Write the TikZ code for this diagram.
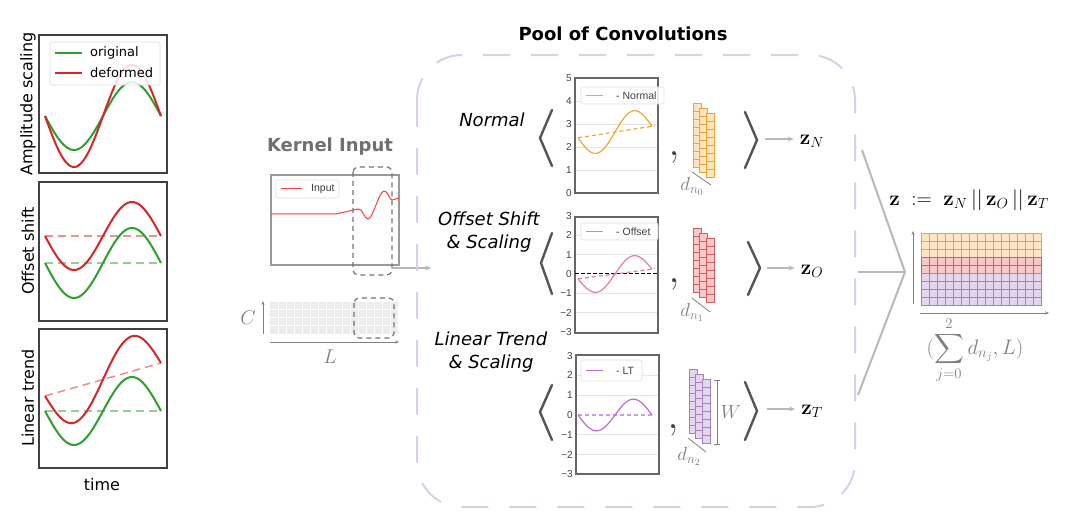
\documentclass[tikz,border=0pt]{standalone}
\usepackage{fix-cm}
\usepackage[no-math]{fontspec}
\usepackage{amsmath}
\setmainfont{DejaVu Sans}
\newfontfamily\arialfont{Liberation Sans}
\usetikzlibrary{arrows.meta}
\definecolor{tabgreen}{RGB}{44,160,44}
\definecolor{tabred}{RGB}{214,39,40}
\definecolor{frame}{RGB}{64,64,64}
\definecolor{kgray}{RGB}{112,112,112}
\definecolor{poolc}{RGB}{220,206,232}
\definecolor{orangeN}{RGB}{245,165,50}
\definecolor{pinkO}{RGB}{232,125,160}
\definecolor{violetT}{RGB}{195,105,215}
\definecolor{kred}{RGB}{250,60,60}
\definecolor{yelfill}{RGB}{253,228,196}
\definecolor{yeldraw}{RGB}{232,170,40}
\definecolor{redfill}{RGB}{248,200,200}
\definecolor{reddraw}{RGB}{208,96,96}
\definecolor{purfill}{RGB}{228,214,236}
\definecolor{purdraw}{RGB}{165,130,190}
\definecolor{brk}{RGB}{85,85,85}
\definecolor{conn}{RGB}{185,185,185}
\begin{document}
\begin{tikzpicture}[x=1pt,y=-1pt,
  panel/.style={draw=frame,line width=1.2pt},
  orig/.style={tabgreen,line width=2pt},
  deform/.style={tabred,line width=2pt},
  trend/.style={line width=1.6pt,dash pattern=on 8pt off 5pt,opacity=0.5},
  plotframe/.style={draw=frame!80,line width=1.2pt},
  gridline/.style={gray!20,line width=0.6pt},
  tick/.style={anchor=east,inner sep=1pt,text=frame,font=\arialfont\fontsize{10}{10}\selectfont},
  legbox/.style={draw=gray!25,fill=white,fill opacity=0.85,rounded corners=2pt,line width=0.6pt},
  legtext/.style={anchor=west,inner sep=0pt,text=frame,font=\arialfont\fontsize{10.5}{12}\selectfont},
  rowlabel/.style={align=center,font=\fontsize{18}{23}\selectfont\itshape},
  bracket/.style={draw=brk,line width=2.4pt,line cap=round,line join=miter},
  arr/.style={draw=conn,line width=1.2pt,-{Stealth[length=6pt,width=5pt]}},
  axis/.style={draw=gray,line width=0.8pt,-{Stealth[length=4pt,width=3pt]}},
  window/.style={draw=gray!90!black,line width=1.2pt,dash pattern=on 5pt off 4pt,rounded corners=5pt},
  zlabel/.style={inner sep=2pt,font=\fontsize{21}{25}\selectfont},
  dimlabel/.style={text=gray,font=\fontsize{19}{22}\selectfont},
  cellN/.style={draw=yeldraw,fill=yelfill,line width=0.8pt},
  cellO/.style={draw=reddraw,fill=redfill,line width=0.8pt},
  cellT/.style={draw=purdraw,fill=purfill,line width=0.8pt},
  conv/.style={draw=conn,line width=2pt},
  comma/.style={anchor=base,text=frame,inner sep=0pt,font=\fontsize{40}{40}\selectfont}
]
\useasboundingbox (0,0) rectangle (1080,529);

% deformation examples
\draw[panel] (39,35) rectangle (167,173);
\draw[panel] (39,182) rectangle (167,321);
\draw[panel] (39,329) rectangle (167,468);
\node[rotate=90,font=\fontsize{16}{19}\selectfont] (ampl) at (28,104) {Amplitude scaling};
\node[rotate=90,font=\fontsize{16}{19}\selectfont] (offs) at (28,251) {Offset shift};
\node[rotate=90,font=\fontsize{16}{19}\selectfont] (lint) at (28,398) {Linear trend};
\node[font=\fontsize{16}{19}\selectfont] (time) at (102,485) {time};

\draw[orig] plot[domain=0:360,samples=72] ({45+\x/360*116},{116+34*sin(\x)});
\draw[deform] plot[domain=0:360,samples=72] ({45+\x/360*116},{116+51*sin(\x)});
\draw[legbox] (50,42) rectangle (160,85);
\draw[orig] (55,53) -- (82,53);
\draw[deform] (55,73) -- (82,73);
\node[anchor=west,inner sep=0pt,font=\fontsize{13}{15}\selectfont] (lorig) at (90,53) {original};
\node[anchor=west,inner sep=0pt,font=\fontsize{13}{15}\selectfont] (ldef) at (90,73) {deformed};

\draw[trend,tabgreen] (45,263) -- (161,263);
\draw[trend,tabred] (45,236) -- (161,236);
\draw[orig] plot[domain=0:360,samples=72] ({45+\x/360*116},{263+35*sin(\x)});
\draw[deform] plot[domain=0:360,samples=72] ({45+\x/360*116},{236+34*sin(\x)});

\draw[trend,tabgreen] (45,411) -- (161,411);
\draw[trend,tabred] (45,396) -- (161,363);
\draw[orig] plot[domain=0:360,samples=72] ({45+\x/360*116},{411+34*sin(\x)});
\draw[deform] plot[domain=0:360,samples=72] ({45+\x/360*116},{396-\x/360*33+35*sin(\x)});

% kernel input
\node[text=kgray,font=\fontsize{18}{22}\selectfont\bfseries] (kin) at (330,147) {Kernel Input};
\draw[draw=gray!80,line width=1.2pt] (271,175) rectangle (399,265);
\draw[legbox] (276,180) rectangle (339,198);
\draw[kred,line width=1pt] (281,189) -- (302,189);
\node[legtext] (linput) at (311,189) {Input};
\draw[kred,line width=1pt] (271,214) -- (336,214) -- (358,209)
  .. controls (363,208) and (364,219) .. (368,219)
  .. controls (373,219) and (379,191) .. (384,191)
  .. controls (388,191) and (389,199) .. (392,200) -- (399,198);
\draw[window] (353,167) rectangle (392,275);
\coordinate (wout) at (392,268);
\coordinate (poolin) at (431,268);
\draw[arr] (wout) -- (poolin);

\fill[gray!15] (270,302) rectangle (398,334);
\foreach \i in {1,...,15}
  \draw[white,line width=1pt] ({270+8*\i},302) -- ({270+8*\i},334);
\foreach \j in {1,2,3}
  \draw[white,line width=1pt] (270,{302+8*\j}) -- (398,{302+8*\j});
\draw[window] (354,298) rectangle (394,338);
\coordinate (cbot) at (263,334);
\coordinate (ctop) at (263,301);
\draw[axis] (cbot) -- (ctop);
\coordinate (lleft) at (270,342);
\coordinate (lright) at (399,342);
\draw[axis] (lleft) -- (lright);
\node[dimlabel,font=\fontsize{20}{22}\selectfont] (labC) at (248,318) {$C$};
\node[dimlabel,font=\fontsize{20}{22}\selectfont] (labL) at (330,357) {$L$};

% pool of convolutions
\node[font=\fontsize{18}{22}\selectfont\bfseries] (poolt) at (623,34) {Pool of Convolutions};
\draw[poolc,line width=2pt,dash pattern=on 27pt off 21pt,rounded corners=45pt] (417,55) rectangle (855,507);

\node[rowlabel] (rowN) at (492,120) {Normal};
\node[rowlabel] (rowO) at (489,232) {Offset Shift\\\& Scaling};
\node[rowlabel] (rowT) at (491,352) {Linear Trend\\\& Scaling};

% normal
\foreach \v in {1,...,4}
  \draw[gridline] (575,{193-23*\v}) -- (658,{193-23*\v});
\foreach \v in {0,...,5}
  \node[tick] at (573,{193-23*\v}) {\v};
\draw[plotframe] (575,78) rectangle (658,193);
\draw[orangeN,line width=1.2pt,dash pattern=on 4pt off 3pt] (578,{193-23*2.4}) -- (655,{193-23*2.92});
\draw[orangeN,line width=1.2pt] plot[domain=0:360,samples=60] ({578+\x/360*74},{193-23*(2.4+\x/360*0.5-0.8*sin(\x))});
\draw[legbox] (581,87) rectangle (664,104);
\draw[orangeN,line width=1pt] (586,95.5) -- (603,95.5);
\node[legtext] (lnorm) at (616,95.5) {- Normal};

% offset
\foreach \v in {-2,-1,1,2}
  \draw[gridline] (575,{274-19.3*\v}) -- (658,{274-19.3*\v});
\foreach \v/\t in {3/3,2/2,1/1,0/0,-1/−1,-2/−2,-3/−3}
  \node[tick] at (573,{274-19.3*\v}) {\t};
\draw[plotframe] (575,217) rectangle (658,333);
\draw[black,line width=1pt,dash pattern=on 4pt off 2pt] (575,274) -- (658,274);
\draw[pinkO,line width=1.2pt,dash pattern=on 4pt off 3pt] (578,{274+19.3*0.25}) -- (655,{274-19.3*0.27});
\draw[pinkO,line width=1.2pt] plot[domain=0:360,samples=60] ({578+\x/360*74},{274-19.3*(-0.25+\x/360*0.5-0.82*sin(\x))});
\draw[legbox] (581,223) rectangle (658,240);
\draw[pinkO,line width=1pt] (586,231.5) -- (603,231.5);
\node[legtext] (loffs) at (616,231.5) {- Offset};

% linear trend
\foreach \v in {-2,-1,1,2}
  \draw[gridline] (576,{415-19.8*\v}) -- (659,{415-19.8*\v});
\foreach \v/\t in {3/3,2/2,1/1,0/0,-1/−1,-2/−2,-3/−3}
  \node[tick] at (574,{415-19.8*\v}) {\t};
\draw[plotframe] (576,355) rectangle (659,474);
\draw[violetT!70,line width=1.2pt,dash pattern=on 4pt off 3pt] (578,415) -- (655,415);
\draw[violetT,line width=1.2pt] plot[domain=0:360,samples=60] ({578+\x/360*74},{415+19.8*0.8*sin(\x)});
\draw[legbox] (581,360) rectangle (642,381);
\draw[violetT,line width=1pt] (586,370.5) -- (603,370.5);
\node[legtext] (ltrend) at (616,370.5) {- LT};

% kernels
\foreach \c in {0,1,2}
  \foreach \r in {0,...,7}
    \draw[cellN] ({693+6.5*\c},{103+5*\c+8*\r}) rectangle +(8,8);
\foreach \c in {0,1,2}
  \foreach \r in {0,...,7}
    \draw[cellO] ({693+6.5*\c},{228+5*\c+8*\r}) rectangle +(8,8);
\foreach \c in {0,1,2}
  \foreach \r in {0,...,7}
    \draw[cellT] ({689+6.5*\c},{369+5*\c+8*\r}) rectangle +(8,8);
\draw[gray,line width=0.8pt] (692,172) -- (711,185);
\draw[gray,line width=0.8pt] (692,298) -- (710,312);
\draw[gray,line width=0.8pt] (688,438) -- (706,452);
\node[dimlabel] (dN) at (692,186) {$d_{n_0}$};
\node[dimlabel] (dO) at (692,312) {$d_{n_1}$};
\node[dimlabel] (dT) at (689,456) {$d_{n_2}$};
\draw[gray,line width=0.8pt] (714,380) -- (720,380) (717,380) -- (717,444) (714,444) -- (720,444);
\node[dimlabel] (labW) at (731,412) {$W$};

\node[comma] (cmN) at (674,156) {$\mathbf{,}$};
\node[comma] (cmO) at (674,283) {$\mathbf{,}$};
\node[comma] (cmT) at (673,429) {$\mathbf{,}$};

% brackets
\draw[bracket] (552,110) -- (540,138) -- (552,166);
\draw[bracket] (745,112) -- (757,140) -- (745,168);
\draw[bracket] (552,233) -- (541,263) -- (552,294);
\draw[bracket] (748,242) -- (760,268) -- (748,295);
\draw[bracket] (552,385) -- (540,412) -- (552,440);
\draw[bracket] (745,382) -- (757,411) -- (745,440);

% outputs
\node[zlabel] (zN) at (812,141) {$\mathbf{z}_N$};
\node[zlabel] (zO) at (812,271) {$\mathbf{z}_O$};
\node[zlabel] (zT) at (812,411) {$\mathbf{z}_T$};
\coordinate (bN) at (765,139);
\coordinate (bO) at (767,268);
\coordinate (bT) at (767,409);
\draw[arr,shorten >=4pt] (bN) -- (zN.west |- bN);
\draw[arr,shorten >=4pt] (bO) -- (zO.west |- bO);
\draw[arr,shorten >=4pt] (bT) -- (zT.west |- bT);

\coordinate (apex) at (905,272);
\coordinate (jN) at (862,150);
\coordinate (jO) at (858,272);
\coordinate (jT) at (858,395);
\draw[conv] (jN) -- (apex);
\draw[conv] (jO) -- (apex);
\draw[conv] (jT) -- (apex);

% concatenation
\node[font=\fontsize{21}{25}\selectfont] (zcat) at (969,200) {$\mathbf{z}\;:=\;\mathbf{z}_N\,||\,\mathbf{z}_O\,||\,\mathbf{z}_T$};
\foreach \r/\s in {0/cellN,1/cellN,2/cellN,3/cellO,4/cellO,5/cellT,6/cellT,7/cellT,8/cellT}
  \foreach \c in {0,...,14}
    \draw[\s] ({921+8*\c},{233+8*\r}) rectangle +(8,8);
\coordinate (vbot) at (913,304);
\coordinate (vtop) at (913,231);
\draw[axis] (vbot) -- (vtop);
\coordinate (hleft) at (920,313);
\coordinate (hright) at (1049,313);
\draw[axis] (hleft) -- (hright);
\node[dimlabel,font=\fontsize{21}{24}\selectfont] (dimsum) at (975,350) {$(\displaystyle\sum_{j=0}^{2} d_{n_j}, L)$};
\end{tikzpicture}
\end{document}
